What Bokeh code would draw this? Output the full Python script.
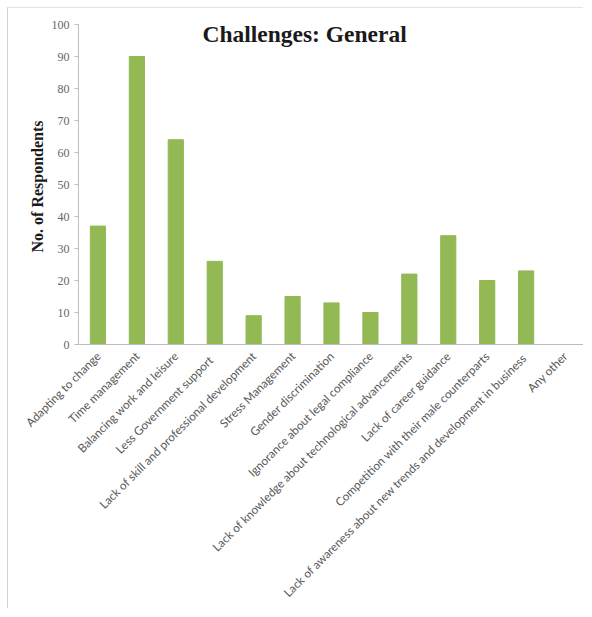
from bokeh.plotting import figure
from bokeh.models import Label, Range1d, FixedTicker
from bokeh.embed import file_html
from bokeh.resources import INLINE

categories = [
    "Adapting to change",
    "Time management",
    "Balancing work and leisure",
    "Less  Government  support",
    "Lack of skill and professional development",
    "Stress Management",
    "Gender discrimination",
    "Ignorance about legal compliance",
    "Lack of knowledge about technological advancements",
    "Lack of career guidance",
    "Competition with their male counterparts",
    "Lack of awareness  about new trends and development in business",
    "Any other",
]
respondents = [37, 90, 64, 26, 9, 15, 13, 10, 22, 34, 20, 23, 0]
y_ticks = [0, 10, 20, 30, 40, 50, 60, 70, 80, 90, 100]

p = figure(x_range=categories, width=576, height=601, output_backend="svg",
           toolbar_location=None, min_border_left=70, min_border_right=0,
           min_border_top=16, min_border_bottom=265)
p.styles = {"margin-left": "7px", "margin-top": "7px",
            "border-left": "1px solid #d4d4d4", "border-top": "1px solid #e4e4e4"}
p.y_range = Range1d(0, 100)
p.vbar(x=categories, top=respondents, width=0.39, color="#92B954")

p.xgrid.grid_line_color = None
p.ygrid.grid_line_color = None
p.outline_line_color = None

p.yaxis.ticker = FixedTicker(ticks=y_ticks)
p.yaxis.axis_line_color = "#bfbfbf"
p.yaxis.major_tick_line_color = "#bfbfbf"
p.yaxis.major_tick_out = 4
p.yaxis.major_tick_in = 0
p.yaxis.minor_tick_line_color = None
p.yaxis.major_label_text_font = "Liberation Serif"
p.yaxis.major_label_text_font_size = "12px"
p.yaxis.major_label_text_color = "#666666"
p.yaxis.axis_label = "No. of  Respondents"
p.yaxis.axis_label_text_font = "Liberation Serif"
p.yaxis.axis_label_text_font_style = "bold"
p.yaxis.axis_label_text_font_size = "16px"
p.yaxis.axis_label_text_color = "#1a1a1a"
p.yaxis.axis_label_standoff = 3

p.xaxis.axis_line_color = "#b8bcd0"
p.xaxis.major_tick_line_color = None
p.xaxis.major_label_orientation = 0.785
p.xaxis.major_label_text_font = "Lato"
p.xaxis.major_label_text_font_size = "11.7px"
p.xaxis.major_label_text_color = "#595959"
p.xaxis.major_label_standoff = 3

title_x = categories.index("Stress Management") + 0.5
title = Label(x=title_x, y=100, x_offset=12, y_offset=-9,
              text="Challenges: General", text_font="Liberation Serif",
              text_font_style="bold", text_font_size="23.5px", text_color="#1a1a1a",
              text_align="center", text_baseline="middle")
p.add_layout(title)

open("out.html", "w").write(file_html(p, INLINE))
